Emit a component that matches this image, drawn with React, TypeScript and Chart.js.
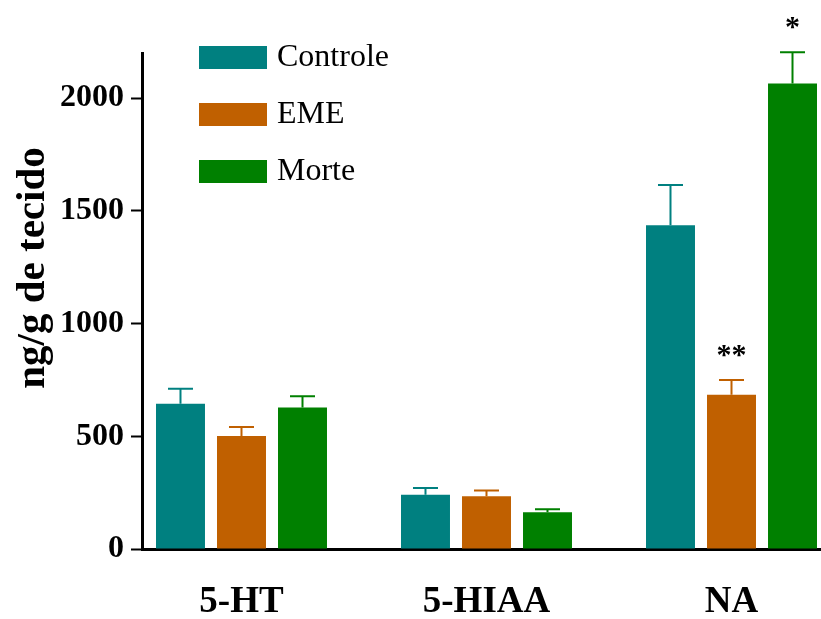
import React, { useEffect, useRef } from "react";
import { Chart, registerables } from "chart.js";

Chart.register(...registerables);

const categories = ["5-HT", "5-HIAA", "NA"];
const seriesNames = ["Controle", "EME", "Morte"];
const seriesColors = ["#008080", "#C06000", "#008000"];

const controleMean = [644, 241, 1436];
const controleSem = [67, 30, 179];
const emeMean = [501, 234, 684];
const emeSem = [40, 25, 66];
const morteMean = [628, 163, 2065];
const morteSem = [49, 13, 138];

const controleMarks = ["", "", ""];
const emeMarks = ["", "", "**"];
const morteMarks = ["", "", "*"];

const yMin = 0;
const yMax = 2200;
const yTickValues = [0, 500, 1000, 1500, 2000];
const yTitle = "ng/g de tecido";

const FONT = "'Liberation Serif', 'Times New Roman', serif";

const overlayPlugin = {
  id: "overlay",
  afterDatasetsDraw(chart: any) {
    const ctx = chart.ctx;
    const ys = chart.scales.y;
    chart.data.datasets.forEach((ds: any, i: number) => {
      const meta = chart.getDatasetMeta(i);
      meta.data.forEach((bar: any, j: number) => {
        const topVal = ds.means[j] + ds.sems[j];
        const topY = ys.getPixelForValue(topVal);
        ctx.save();
        ctx.strokeStyle = ds.backgroundColor;
        ctx.lineWidth = 2;
        ctx.beginPath();
        ctx.moveTo(bar.x, bar.y);
        ctx.lineTo(bar.x, topY);
        ctx.moveTo(bar.x - 12.5, topY);
        ctx.lineTo(bar.x + 12.5, topY);
        ctx.stroke();
        const mark = ds.marks[j];
        if (mark) {
          ctx.fillStyle = "#000";
          ctx.font = `bold 30px ${FONT}`;
          ctx.textAlign = "center";
          ctx.textBaseline = "alphabetic";
          ctx.fillText(mark, bar.x, topY - 16);
        }
        ctx.restore();
      });
    });
  },
  afterDraw(chart: any) {
    const ctx = chart.ctx;
    const area = chart.chartArea;
    // legend
    ctx.save();
    chart.data.datasets.forEach((ds: any, i: number) => {
      const cy = 57.5 + i * 57;
      const bx = area.left + 57;
      ctx.fillStyle = ds.backgroundColor;
      ctx.fillRect(bx, cy - 11.5, 68, 23);
      ctx.fillStyle = "#000";
      ctx.font = `32px ${FONT}`;
      ctx.textAlign = "left";
      ctx.textBaseline = "middle";
      ctx.fillText(ds.label, bx + 78, cy);
    });
    // y title
    ctx.translate(33, (area.top + area.bottom) / 2 - 33);
    ctx.rotate(-Math.PI / 2);
    ctx.fillStyle = "#000";
    ctx.font = `bold 41px ${FONT}`;
    ctx.textAlign = "center";
    ctx.textBaseline = "middle";
    ctx.fillText(yTitle, 0, 0);
    ctx.restore();
  },
};

export default function App() {
  const ref = useRef<HTMLCanvasElement | null>(null);

  useEffect(() => {
    if (!ref.current) return;
    const means = [controleMean, emeMean, morteMean];
    const sems = [controleSem, emeSem, morteSem];
    const marks = [controleMarks, emeMarks, morteMarks];
    const chart = new Chart(ref.current, {
      type: "bar",
      data: {
        datasets: seriesNames.map((name, i) => ({
          label: name,
          data: means[i].map((v, j) => ({ x: j, y: v })),
          backgroundColor: seriesColors[i],
          borderWidth: 0,
          categoryPercentage: 0.747,
          barPercentage: 0.803,
          means: means[i],
          sems: sems[i],
          marks: marks[i],
        })) as any,
      },
      options: {
        animation: false,
        responsive: false,
        layout: { padding: { top: 53, right: 0, left: 0, bottom: 0 } },
        plugins: {
          legend: { display: false },
          tooltip: { enabled: false },
        },
        scales: {
          x: {
            type: "linear",
            offset: false,
            min: -0.4061,
            max: 2.3653,
            grid: { display: false, drawTicks: false },
            border: { display: true, color: "#000", width: 3 },
            afterBuildTicks: (s: any) => {
              s.ticks = categories.map((_, j) => ({ value: j }));
            },
            ticks: {
              autoSkip: false,
              maxRotation: 0,
              padding: 31,
              color: "#000",
              font: { family: FONT, size: 37, weight: "bold" },
              callback: (v: any) => {
                const k = Math.round(Number(v));
                return categories[k] !== undefined ? categories[k] : "";
              },
            },
            afterFit: (s: any) => {
              s.height = 70;
            },
          },
          y: {
            min: yMin,
            max: yMax,
            grid: {
              drawOnChartArea: false,
              drawTicks: true,
              tickLength: 11,
              tickWidth: 2,
              tickColor: "#000",
            },
            border: { display: true, color: "#000", width: 3 },
            afterBuildTicks: (s: any) => {
              s.ticks = yTickValues.map((v) => ({ value: v }));
            },
            ticks: {
              autoSkip: false,
              padding: 7,
              color: "#000",
              font: { family: FONT, size: 32, weight: "bold" },
              callback: (v: any) => String(v),
            },
            afterFit: (s: any) => {
              s.width = 142;
            },
          },
        },
      } as any,
      plugins: [overlayPlugin],
    });
    return () => chart.destroy();
  }, []);

  return (
    <div style={{ position: "fixed", left: 0, top: 0, width: 821, height: 619, background: "#fff" }}>
      <canvas ref={ref} width={821} height={619} style={{ display: "block" }} />
    </div>
  );
}
